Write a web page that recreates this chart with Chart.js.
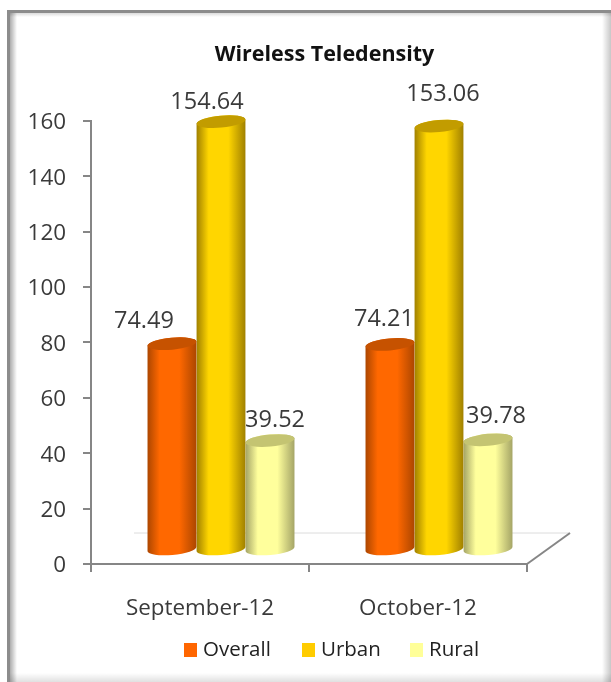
<!DOCTYPE html>
<html>
<head>
<meta charset="utf-8">
<script src="https://cdn.jsdelivr.net/npm/chart.js@4"></script>
<style>
  html, body { margin: 0; padding: 0; background: #fff; }
  #wrap { position: relative; width: 611px; height: 682px; overflow: hidden; }
  #frame {
    position: absolute; left: 7px; top: 10px; width: 604px; height: 672px;
    box-sizing: border-box;
    border-top: 3px solid #8c8c8c; border-left: 3px solid #8c8c8c;
    background:
      linear-gradient(to right, rgba(0,0,0,.32), rgba(0,0,0,0) 7px),
      linear-gradient(to bottom, rgba(0,0,0,.14), rgba(0,0,0,0) 4px),
      linear-gradient(to left, rgba(0,0,0,.22), rgba(0,0,0,0) 9px),
      linear-gradient(to top, rgba(0,0,0,.12), rgba(0,0,0,0) 9px),
      #fff;
  }
  canvas { position: absolute; left: 0; top: 0; }
</style>
</head>
<body>
<div id="wrap">
  <div id="frame"></div>
  <canvas id="myChart" width="611" height="682"></canvas>
</div>
<script>
const months = ["September-12", "October-12"];
const overall = [74.49, 74.21];
const urban = [154.64, 153.06];
const rural = [39.52, 39.78];
const yTicks = [0, 20, 40, 60, 80, 100, 120, 140, 160];

const FONT = "'Open Sans', 'Noto Sans', sans-serif";
const TEXT = "#3a3a3a";
const AXIS = "#868686";

// 3D look: the bars sit on a floor pushed back from the axes
const DEPTH_X = 21;
const DEPTH_Y = -14;

// per dataset: edge shade, lit centre, top cap
const shades = [
  { edge: "#ac4600", mid: "#ff6800", cap: "#c65200" },
  { edge: "#a08000", mid: "#ffd600", cap: "#c29c00" },
  { edge: "#a4a466", mid: "#ffff9c", cap: "#c4c472" },
];

// where the value labels sit, relative to the top of the bar
const labelNudge = [
  [[-28, -22], [-6, -25]],
  [[-14, -19], [4, -32]],
  [[5, -20], [8, -23]],
];

const cylinders = {
  id: "cylinders",
  beforeDatasetDraw(chart, args) {
    const ctx = chart.ctx;
    const s = shades[args.index];
    chart.getDatasetMeta(args.index).data.forEach((bar) => {
      const cx = bar.x + DEPTH_X;
      const rx = bar.width / 2;
      const top = bar.y + DEPTH_Y;
      const bottom = bar.base + DEPTH_Y;
      const ry = 6;
      const tilt = -0.09;

      const g = ctx.createLinearGradient(cx - rx, 0, cx + rx, 0);
      g.addColorStop(0, s.edge);
      g.addColorStop(0.25, s.mid);
      g.addColorStop(0.65, s.mid);
      g.addColorStop(1, s.edge);

      ctx.save();
      ctx.fillStyle = g;
      ctx.beginPath();
      ctx.ellipse(cx, bottom, rx, ry, tilt, 0, Math.PI);
      ctx.ellipse(cx, top, rx, ry, tilt, Math.PI, 0);
      ctx.closePath();
      ctx.fill();

      ctx.fillStyle = s.cap;
      ctx.beginPath();
      ctx.ellipse(cx, top, rx, ry, tilt, 0, Math.PI * 2);
      ctx.fill();
      ctx.restore();
    });
    return false;
  },
  afterDatasetsDraw(chart) {
    const ctx = chart.ctx;
    ctx.save();
    ctx.font = "23.5px " + FONT;
    ctx.fillStyle = TEXT;
    ctx.textAlign = "center";
    ctx.textBaseline = "middle";
    chart.data.datasets.forEach((ds, i) => {
      chart.getDatasetMeta(i).data.forEach((bar, j) => {
        const n = labelNudge[i][j];
        ctx.fillText(ds.data[j].toFixed(2), bar.x + DEPTH_X + n[0], bar.y + DEPTH_Y + n[1]);
      });
    });
    ctx.restore();
  },
};

const floor = {
  id: "floor",
  beforeDatasetsDraw(chart) {
    const { left, right, bottom } = chart.chartArea;
    const ctx = chart.ctx;
    ctx.save();
    ctx.lineWidth = 1;
    ctx.strokeStyle = "#dcdcdc";
    ctx.beginPath();
    ctx.moveTo(left + 43, bottom - 31);
    ctx.lineTo(right + 43, bottom - 31);
    ctx.stroke();
    ctx.lineWidth = 2;
    ctx.strokeStyle = AXIS;
    ctx.beginPath();
    ctx.moveTo(right, bottom);
    ctx.lineTo(right + 43, bottom - 31);
    ctx.stroke();
    ctx.restore();
  },
};

// title is not centred on the plot in the original
const placeTitle = {
  id: "placeTitle",
  afterLayout(chart) {
    chart.titleBlock.left = 0;
    chart.titleBlock.right = 649;
  },
};

// legend drawn by hand, the built-in one cannot do this swatch/text gap
const legendRow = {
  id: "legendRow",
  afterDraw(chart) {
    const ctx = chart.ctx;
    const starts = [184, 302, 410];
    ctx.save();
    ctx.font = "20.5px " + FONT;
    ctx.textBaseline = "middle";
    chart.data.datasets.forEach((ds, i) => {
      ctx.fillStyle = ds.backgroundColor;
      ctx.fillRect(starts[i], 643, 13, 14);
      ctx.fillStyle = "#222";
      ctx.fillText(ds.label, starts[i] + 19, 650);
    });
    ctx.restore();
  },
};

new Chart(document.getElementById("myChart"), {
  type: "bar",
  data: {
    labels: months,
    datasets: [
      { label: "Overall", data: overall, backgroundColor: "#ff6600" },
      { label: "Urban", data: urban, backgroundColor: "#ffcc00" },
      { label: "Rural", data: rural, backgroundColor: "#ffff99" },
    ],
  },
  plugins: [floor, cylinders, placeTitle, legendRow],
  options: {
    responsive: false,
    animation: false,
    devicePixelRatio: 1,
    layout: { padding: { left: 0, right: 84, top: 0, bottom: 58 } },
    datasets: { bar: { categoryPercentage: 0.675, barPercentage: 1 } },
    scales: {
      x: {
        afterFit(scale) { scale.height = 60; },
        grid: { drawOnChartArea: false, color: AXIS, lineWidth: 2, tickLength: 8 },
        border: { color: AXIS, width: 2 },
        ticks: { color: TEXT, font: { family: FONT, size: 22.4 }, padding: 23, maxRotation: 0 },
      },
      y: {
        min: 0,
        max: 160,
        afterFit(scale) { scale.width = 91; },
        afterBuildTicks(scale) { scale.ticks = yTicks.map((v) => ({ value: v })); },
        grid: { drawOnChartArea: false, color: AXIS, lineWidth: 2, tickLength: 8 },
        border: { color: AXIS, width: 2 },
        ticks: { color: TEXT, font: { family: FONT, size: 22.4 }, padding: 17, labelOffset: 2 },
      },
    },
    plugins: {
      tooltip: { enabled: false },
      legend: { display: false },
      title: {
        display: true,
        text: "Wireless Teledensity",
        color: "#111",
        font: { family: FONT, size: 21.5, weight: "bold" },
        padding: { top: 42, bottom: 53 },
      },
    },
  },
});
</script>
</body>
</html>
